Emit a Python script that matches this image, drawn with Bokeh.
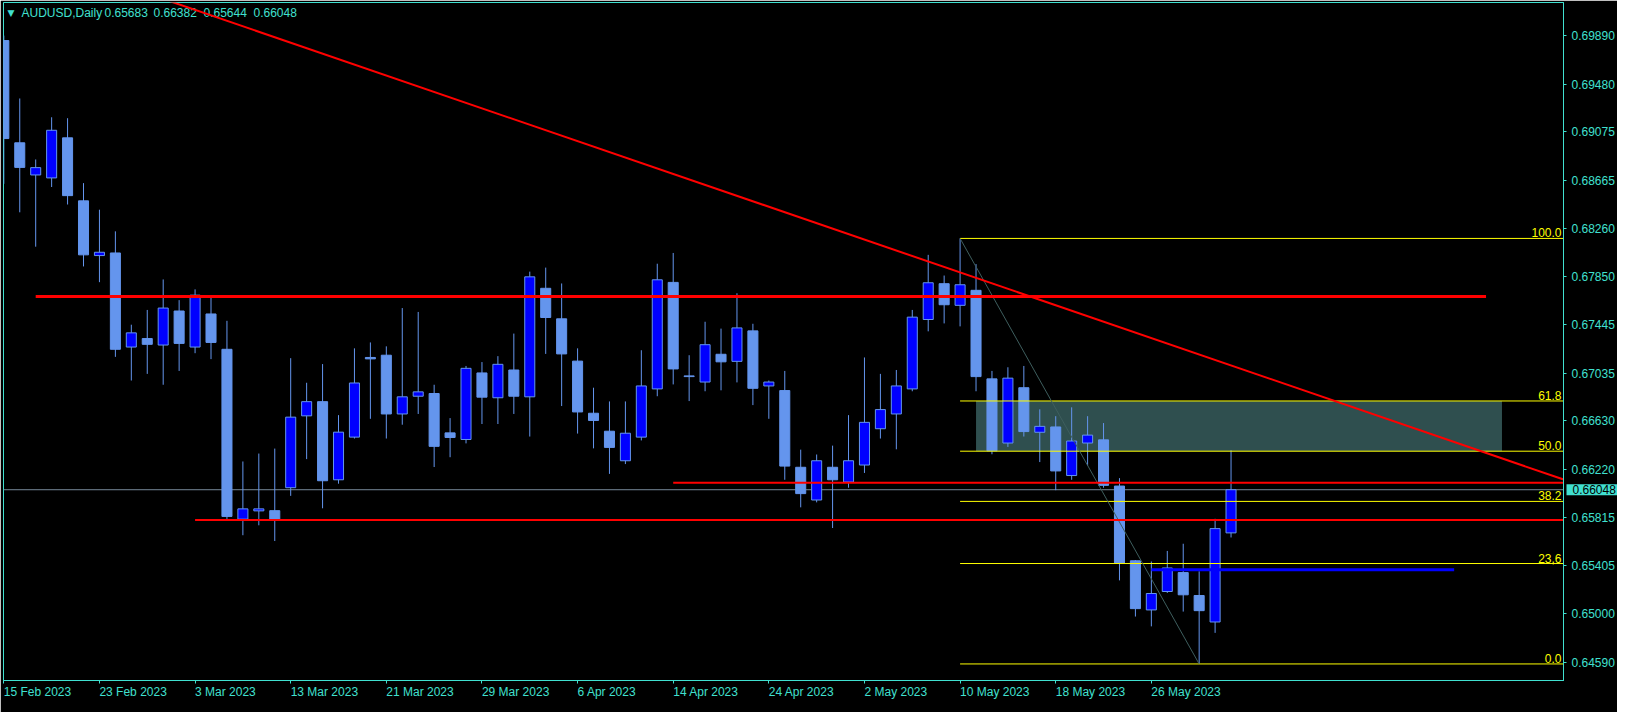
from bokeh.plotting import figure
from bokeh.models import Range1d, FixedTicker, PrintfTickFormatter, Label, Span, ColumnDataSource
from bokeh.embed import file_html
from bokeh.resources import INLINE

# ---------------- data (AUDUSD daily, 15 Feb 2023 .. 2 Jun 2023) ----------------
opens = [0.69848, 0.68983, 0.68711, 0.68686, 0.69025, 0.68492, 0.68029, 0.68051, 0.67255, 0.67327,
         0.67272, 0.67560, 0.67255, 0.67535, 0.67236, 0.65799, 0.65869, 0.65871, 0.66065, 0.66673,
         0.66793, 0.66132, 0.66493, 0.67167, 0.67186, 0.66689, 0.66839, 0.66862, 0.66529, 0.66473,
         0.67036, 0.66826, 0.67061, 0.66834, 0.67752, 0.67494, 0.67136, 0.66695, 0.66543, 0.66293,
         0.66493, 0.66901, 0.67802, 0.67011, 0.66959, 0.67194, 0.67134, 0.67392, 0.66926, 0.66887,
         0.66238, 0.65961, 0.66238, 0.66113, 0.66257, 0.66564, 0.66689, 0.66901, 0.67488, 0.67791,
         0.67608, 0.67735, 0.66986, 0.66443, 0.66911, 0.66534, 0.66579, 0.66168, 0.66443, 0.66470,
         0.66079, 0.65447, 0.65031, 0.65187, 0.65347, 0.65153, 0.64929, 0.65683]
highs = [0.69890, 0.69358, 0.68842, 0.69199, 0.69191, 0.68642, 0.68417, 0.68234, 0.67444, 0.67569,
         0.67827, 0.67652, 0.67743, 0.67694, 0.67477, 0.66287, 0.66354, 0.66396, 0.67161, 0.66953,
         0.67111, 0.66679, 0.67244, 0.67294, 0.67261, 0.67585, 0.67552, 0.66936, 0.66654, 0.67095,
         0.67128, 0.67178, 0.67369, 0.67893, 0.67927, 0.67793, 0.67244, 0.66911, 0.66795, 0.66795,
         0.67228, 0.67960, 0.68051, 0.67186, 0.67469, 0.67411, 0.67710, 0.67452, 0.66972, 0.67053,
         0.66387, 0.66346, 0.66421, 0.66679, 0.67167, 0.67028, 0.67061, 0.67569, 0.68035, 0.67860,
         0.68174, 0.67957, 0.67053, 0.67084, 0.67095, 0.66728, 0.66670, 0.66745, 0.66670, 0.66612,
         0.66146, 0.65453, 0.65441, 0.65530, 0.65591, 0.65358, 0.65802, 0.66382]
lows = [0.68636, 0.68395, 0.68104, 0.68609, 0.68461, 0.67937, 0.67804, 0.67172, 0.66972, 0.67028,
        0.66936, 0.67053, 0.67203, 0.67153, 0.65799, 0.65663, 0.65747, 0.65614, 0.65996, 0.66307,
        0.65891, 0.66099, 0.66481, 0.66648, 0.66481, 0.66598, 0.66689, 0.66240, 0.66323, 0.66440,
        0.66604, 0.66604, 0.66689, 0.66498, 0.67197, 0.66756, 0.66523, 0.66398, 0.66182, 0.66265,
        0.66465, 0.66839, 0.66939, 0.66798, 0.66881, 0.66889, 0.66956, 0.66764, 0.66648, 0.66132,
        0.65899, 0.65941, 0.65724, 0.66065, 0.66190, 0.66481, 0.66390, 0.66881, 0.67388, 0.67455,
        0.67430, 0.66881, 0.66348, 0.66410, 0.66498, 0.66282, 0.66044, 0.66132, 0.66252, 0.66065,
        0.65281, 0.64975, 0.64892, 0.65175, 0.65017, 0.64574, 0.64837, 0.65644]
closes = [0.69019, 0.68775, 0.68773, 0.69089, 0.68536, 0.68035, 0.68057, 0.67236, 0.67375, 0.67278,
          0.67585, 0.67286, 0.67694, 0.67294, 0.65822, 0.65886, 0.65886, 0.65794, 0.66662, 0.66793,
          0.66124, 0.66535, 0.66951, 0.67155, 0.66689, 0.66834, 0.66876, 0.66415, 0.66490, 0.67075,
          0.66831, 0.67109, 0.66839, 0.67849, 0.67505, 0.67197, 0.66706, 0.66634, 0.66406, 0.66526,
          0.66926, 0.67824, 0.67070, 0.67005, 0.67275, 0.67130, 0.67417, 0.66906, 0.66959, 0.66248,
          0.66015, 0.66293, 0.66132, 0.66293, 0.66618, 0.66726, 0.66926, 0.67508, 0.67799, 0.67613,
          0.67782, 0.67005, 0.66377, 0.66992, 0.66540, 0.66584, 0.66207, 0.66460, 0.66510, 0.66085,
          0.65425, 0.65042, 0.65170, 0.65386, 0.65159, 0.65025, 0.65719, 0.66048]

date_tick_bars = [0, 6, 12, 18, 24, 30, 36, 42, 48, 54, 60, 66, 72]
date_tick_labels = ["15 Feb 2023", "23 Feb 2023", "3 Mar 2023", "13 Mar 2023", "21 Mar 2023",
                    "29 Mar 2023", "6 Apr 2023", "14 Apr 2023", "24 Apr 2023", "2 May 2023",
                    "10 May 2023", "18 May 2023", "26 May 2023"]
price_ticks = [0.69890, 0.69480, 0.69075, 0.68665, 0.68260, 0.67850, 0.67445,
               0.67035, 0.66630, 0.66220, 0.65815, 0.65405, 0.65000, 0.64590]

title_tokens = ["AUDUSD,Daily", "0.65683", "0.66382", "0.65644", "0.66048"]
bid_price = 0.66048

# drawn objects
hline_price = [0.67683, 0.66107, 0.65791]
hline_from = [2.0, 42.0, 12.0]
hline_to = [93.0, 140.0, 140.0]
blue_price = [0.65370]
blue_from = [72.0]
blue_to = [91.0]
trend_bar = [0.0, 98.0]
trend_price = [0.70663, 0.66128]
fib_high, fib_low = 0.68174, 0.64574
fib_high_bar, fib_low_bar = 60, 75
fib_levels = [0.0, 23.6, 38.2, 50.0, 61.8, 100.0]
fib_names = ["0.0", "23,6", "38.2", "50.0", "61.8", "100.0"]
zone_levels = (50.0, 61.8)
zone_bars = (61, 94)

# ---------------- styling / layout ----------------
CYAN = "#40E0D0"
BULL = "#0000FF"
BEAR = "#6495ED"
FONT = "Liberation Sans"
FW, FH = 1560, 678
XR = (-0.02, 97.86)
YR = (0.64434, 0.70170)
PPB = FW / (XR[1] - XR[0])          # pixels per bar
title_x = [18, 101, 150, 200, 250]  # screen offsets of the header tokens

# Liberation Sans (Arial metrics) advance widths, per 1000 em
ADV = {" ": 278, "F": 611, "e": 556, "b": 556, "M": 833, "a": 556, "r": 333,
       "A": 667, "p": 556, "y": 500}
def text_w(s, size=12):
    return sum(ADV.get(ch, 556) for ch in s) * size / 1000.0

p = figure(frame_width=FW, frame_height=FH, x_range=Range1d(*XR), y_range=Range1d(*YR),
           y_axis_location="right", toolbar_location=None, output_backend="svg",
           background_fill_color="black", border_fill_color="black",
           outline_line_color=CYAN, outline_line_width=1,
           min_border_left=3, min_border_top=2, min_border_right=0, min_border_bottom=0)
p.xgrid.visible = False
p.ygrid.visible = False

def fib_price(level):
    return fib_low + (fib_high - fib_low) * level / 100.0

# background rectangle zone
p.quad(left=[zone_bars[0]], right=[zone_bars[1]], bottom=[fib_price(zone_levels[0])],
       top=[fib_price(zone_levels[1])], fill_color="#2F4F4F", line_color=None)

# bid line
p.add_layout(Span(location=bid_price, dimension="width", line_color="#778899", line_width=1, level="underlay"))

# candles
n = len(opens)
bars = list(range(n))
src = ColumnDataSource(dict(
    x=bars, high=highs, low=lows,
    top=[max(o, c) for o, c in zip(opens, closes)],
    bottom=[min(o, c) for o, c in zip(opens, closes)],
    fill=[BULL if c > o else BEAR for o, c in zip(opens, closes)],
))
p.segment(x0="x", y0="low", x1="x", y1="high", source=src, line_color=BEAR, line_width=1)
p.vbar(x="x", top="top", bottom="bottom", width=0.63, source=src,
       fill_color="fill", line_color=BEAR, line_width=1)

# fibonacci
fib_src = ColumnDataSource(dict(
    x0=[fib_high_bar] * len(fib_levels), x1=[140.0] * len(fib_levels),
    y=[fib_price(l) for l in fib_levels]))
p.segment(x0="x0", y0="y", x1="x1", y1="y", source=fib_src, line_color="#FFFF00", line_width=1)
p.line(x=[fib_high_bar, fib_low_bar], y=[fib_high, fib_low], line_color="#3E5E5E", line_width=1)

# horizontal lines
widths = [3, 2, 2]
for pr, a, b, w in zip(hline_price, hline_from, hline_to, widths):
    p.line(x=[a, b], y=[pr, pr], line_color="#FF0000", line_width=w)
for pr, a, b in zip(blue_price, blue_from, blue_to):
    p.line(x=[a, b], y=[pr, pr], line_color="#0000FF", line_width=3)

# trend line
p.line(x=trend_bar, y=trend_price, line_color="#FF0000", line_width=2)

# fib labels
for lvl, name in zip(fib_levels, fib_names):
    p.add_layout(Label(x=FW - 2, y=fib_price(lvl), x_units="screen", y_units="data", text=name,
                       text_align="right", text_baseline="bottom", y_offset=1,
                       text_color="#FFFF00", text_font=FONT, text_font_size="12px"))

# header
p.add_layout(Label(x=4, y=FH - 10, x_units="screen", y_units="screen", text="\u25BC",
                   text_align="left", text_baseline="middle", text_color=CYAN,
                   text_font="DejaVu Sans", text_font_size="9px", level="underlay"))
for tx, tok in zip(title_x, title_tokens):
    p.add_layout(Label(x=tx, y=FH - 10, x_units="screen", y_units="screen", text=tok,
                       text_align="left", text_baseline="middle", text_color=CYAN,
                       text_font=FONT, text_font_size="12px", level="underlay"))

# axes
ya = p.yaxis[0]
ya.ticker = FixedTicker(ticks=price_ticks)
ya.formatter = PrintfTickFormatter(format="%.5f")

# date labels start at their tick (MT4 style): labels centred half a label-width to the right,
# tick marks drawn as minor ticks at the dates themselves
label_centres = [b + text_w(s) / 2.0 / PPB for b, s in zip(date_tick_bars, date_tick_labels)]
xa = p.xaxis[0]
xa.ticker = FixedTicker(ticks=label_centres, minor_ticks=date_tick_bars)
xa.major_label_overrides = {c: s for c, s in zip(label_centres, date_tick_labels)}
xa.major_tick_line_color = None
xa.minor_tick_line_color = CYAN
xa.minor_tick_in = 0
xa.minor_tick_out = 3
xa.major_tick_out = 3
xa.major_label_standoff = 1

for ax in (xa, ya):
    ax.axis_line_color = CYAN
    ax.major_label_text_color = CYAN
    ax.major_label_text_font = FONT
    ax.major_label_text_font_size = "12px"
ya.major_tick_line_color = CYAN
ya.minor_tick_line_color = None
ya.major_tick_in = 0
ya.major_tick_out = 3
ya.major_label_standoff = 5

# current price tag on the price scale. Side-panel annotations are not clipped to the frame,
# so the tag lives in the (otherwise empty) strip under the date axis and is drawn at the bid price.
tag_kw = dict(x=FW + 3, y=bid_price, x_units="screen", y_units="data", text="%.5f" % bid_price,
              text_align="left", text_baseline="middle", text_color="black",
              background_fill_color=CYAN, text_font=FONT, text_font_size="12px")
try:
    tag = Label(padding=dict(left=6, right=6, top=1, bottom=1), **tag_kw)
except Exception:
    tag = Label(padding=(6, 1), **tag_kw)
p.add_layout(tag, "below")

open("out.html", "w").write(file_html(p, INLINE))
